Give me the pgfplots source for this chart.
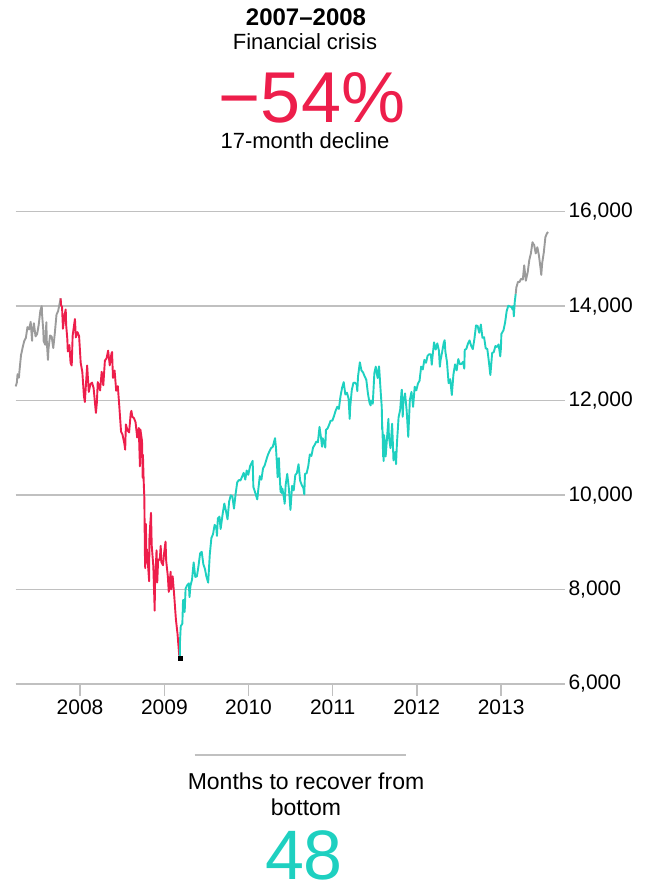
\documentclass[border=0pt]{standalone}
\usepackage{pgfplots}
\pgfplotsset{compat=1.18}
\usepackage{pgfplotstable}
\usepgfplotslibrary{dateplot}
\usepackage{fontspec}
\setmainfont{Liberation Sans}
\definecolor{crisisred}{RGB}{237,30,75}
\definecolor{recteal}{RGB}{30,208,192}
\definecolor{linegray}{RGB}{155,155,155}
\definecolor{gridgray}{RGB}{192,192,192}

\pgfplotstableread{
d v
2007-03-28 12300
2007-04-02 12382
2007-04-05 12560
2007-04-11 12484
2007-04-13 12612
2007-04-20 12961
2007-04-27 13120
2007-05-04 13264
2007-05-11 13326
2007-05-18 13556
2007-05-25 13507
2007-06-01 13668
2007-06-07 13266
2007-06-08 13424
2007-06-15 13639
2007-06-22 13360
2007-06-29 13408
2007-07-06 13611
2007-07-13 13907
2007-07-19 14000
2007-07-20 13851
2007-07-26 13473
2007-07-27 13265
2007-08-03 13182
2007-08-08 13658
2007-08-10 13240
2007-08-15 12861
2007-08-17 13079
2007-08-24 13379
2007-08-31 13358
2007-09-07 13113
2007-09-14 13442
2007-09-21 13820
2007-09-28 13896
2007-10-05 14066
2007-10-09 14165
}\grayA

\pgfplotstableread{
d v
2007-10-09 14165
2007-10-11 14015
2007-10-15 13985
2007-10-19 13522
2007-10-26 13807
2007-10-31 13930
2007-11-02 13595
2007-11-07 13300
2007-11-09 13042
2007-11-16 13176
2007-11-21 12799
2007-11-26 12743
2007-11-30 13372
2007-12-07 13625
2007-12-10 13727
2007-12-14 13339
2007-12-21 13450
2007-12-28 13366
2008-01-04 12800
2008-01-11 12606
2008-01-18 12099
2008-01-22 11971
2008-01-25 12207
2008-02-01 12743
2008-02-08 12183
2008-02-15 12348
2008-02-22 12381
2008-02-29 12266
2008-03-07 11894
2008-03-10 11740
2008-03-14 11951
2008-03-18 12392
2008-03-20 12361
2008-03-28 12216
2008-04-04 12610
2008-04-11 12325
2008-04-18 12849
2008-04-25 12892
2008-05-02 13058
2008-05-09 12746
2008-05-16 12987
2008-05-19 13028
2008-05-23 12480
2008-05-30 12638
2008-06-06 12209
2008-06-13 12307
2008-06-20 11843
2008-06-27 11346
2008-07-03 11288
2008-07-11 11100
2008-07-15 10962
2008-07-18 11496
2008-07-25 11370
2008-08-01 11326
2008-08-08 11734
2008-08-11 11782
2008-08-15 11659
2008-08-22 11628
2008-08-29 11543
2008-09-05 11220
2008-09-12 11421
2008-09-15 10917
2008-09-17 10609
2008-09-19 11388
2008-09-26 11143
2008-09-29 10365
2008-09-30 10851
2008-10-03 10325
2008-10-06 9955
2008-10-09 8579
2008-10-10 8451
2008-10-13 9387
2008-10-15 8577
2008-10-17 8852
2008-10-22 8519
2008-10-24 8378
2008-10-27 8176
2008-10-28 9065
2008-10-31 9325
2008-11-04 9625
2008-11-07 8943
2008-11-14 8497
2008-11-20 7552
2008-11-21 8046
2008-11-28 8829
2008-12-01 8149
2008-12-05 8635
2008-12-12 8629
2008-12-16 8924
2008-12-19 8579
2008-12-26 8515
2008-12-31 8776
2009-01-06 9015
2009-01-09 8599
2009-01-16 8281
2009-01-20 7950
2009-01-23 8077
2009-01-28 8375
2009-01-30 8001
2009-02-06 8280
2009-02-13 7850
2009-02-20 7366
2009-02-27 7063
2009-03-06 6627
2009-03-09 6547
}\redS

\pgfplotstableread{
d v
2009-03-09 6547
2009-03-10 6926
2009-03-13 7224
2009-03-20 7279
2009-03-23 7776
2009-03-27 7776
2009-03-30 7523
2009-04-03 8018
2009-04-09 8083
2009-04-17 8131
2009-04-20 7841
2009-04-24 8076
2009-05-01 8212
2009-05-08 8575
2009-05-15 8268
2009-05-22 8277
2009-05-29 8500
2009-06-05 8764
2009-06-12 8799
2009-06-19 8539
2009-06-26 8438
2009-07-02 8280
2009-07-10 8146
2009-07-17 8743
2009-07-24 9093
2009-07-31 9171
2009-08-07 9370
2009-08-14 9321
2009-08-17 9135
2009-08-21 9505
2009-08-28 9544
2009-09-02 9281
2009-09-11 9605
2009-09-18 9820
2009-09-25 9665
2009-10-02 9487
2009-10-09 9864
2009-10-16 9995
2009-10-23 9972
2009-10-30 9712
2009-11-06 10023
2009-11-13 10270
2009-11-20 10318
2009-11-27 10309
2009-12-04 10388
2009-12-11 10471
2009-12-18 10328
2009-12-24 10520
2009-12-31 10428
2010-01-08 10618
2010-01-19 10725
2010-01-22 10172
2010-01-29 10067
2010-02-08 9908
2010-02-12 10099
2010-02-19 10402
2010-02-26 10325
2010-03-05 10567
2010-03-12 10625
2010-03-19 10742
2010-03-26 10851
2010-04-02 10927
2010-04-09 10997
2010-04-16 11019
2010-04-26 11205
2010-04-30 11009
2010-05-06 10520
2010-05-07 10380
2010-05-13 10782
2010-05-14 10620
2010-05-20 10068
2010-05-21 10193
2010-05-25 10043
2010-05-28 10137
2010-06-04 9931
2010-06-07 9816
2010-06-11 10211
2010-06-18 10450
2010-06-25 10143
2010-07-02 9686
2010-07-09 10198
2010-07-16 10097
2010-07-23 10425
2010-07-30 10466
2010-08-06 10653
2010-08-13 10303
2010-08-20 10213
2010-08-27 10150
2010-08-31 10014
2010-09-03 10448
2010-09-10 10462
2010-09-17 10607
2010-09-24 10860
2010-10-01 10829
2010-10-08 11006
2010-10-15 11062
2010-10-22 11133
2010-10-29 11118
2010-11-05 11444
2010-11-12 11192
2010-11-16 11023
2010-11-19 11204
2010-11-26 11092
2010-11-30 11006
2010-12-03 11382
2010-12-10 11410
2010-12-17 11492
2010-12-23 11573
2010-12-31 11578
2011-01-07 11675
2011-01-14 11787
2011-01-21 11871
2011-01-28 11824
2011-02-04 12092
2011-02-11 12273
2011-02-18 12391
2011-02-25 12130
2011-03-04 12169
2011-03-11 12044
2011-03-16 11613
2011-03-18 11858
2011-03-25 12221
2011-04-01 12377
2011-04-08 12380
2011-04-15 12342
2011-04-18 12201
2011-04-21 12505
2011-04-29 12811
2011-05-06 12638
2011-05-13 12596
2011-05-20 12512
2011-05-27 12441
2011-06-03 12151
2011-06-10 11952
2011-06-15 11898
2011-06-17 12004
2011-06-24 11934
2011-07-01 12582
2011-07-07 12719
2011-07-15 12479
2011-07-21 12724
2011-07-22 12681
2011-07-29 12143
2011-08-02 11866
2011-08-04 11383
2011-08-05 11445
2011-08-08 10810
2011-08-09 11240
2011-08-10 10720
2011-08-11 11143
2011-08-12 11269
2011-08-18 10990
2011-08-19 10817
2011-08-26 11285
2011-08-31 11614
2011-09-02 11240
2011-09-09 10992
2011-09-16 11509
2011-09-22 10733
2011-09-23 10771
2011-09-30 10913
2011-10-03 10655
2011-10-07 11103
2011-10-14 11644
2011-10-21 11809
2011-10-27 12209
2011-10-28 12231
2011-11-01 11658
2011-11-04 11983
2011-11-11 12153
2011-11-18 11796
2011-11-25 11231
2011-12-02 12019
2011-12-09 12184
2011-12-16 11867
2011-12-23 12294
2011-12-30 12218
2012-01-06 12360
2012-01-13 12422
2012-01-20 12720
2012-01-27 12660
2012-02-03 12862
2012-02-10 12801
2012-02-17 12950
2012-02-24 12983
2012-03-02 12978
2012-03-06 12759
2012-03-09 12922
2012-03-16 13233
2012-03-23 13081
2012-03-30 13212
2012-04-06 13060
2012-04-10 12716
2012-04-13 12850
2012-04-20 13029
2012-04-27 13228
2012-05-01 13279
2012-05-04 13038
2012-05-11 12821
2012-05-18 12369
2012-05-25 12454
2012-06-01 12119
2012-06-08 12554
2012-06-15 12767
2012-06-22 12640
2012-06-29 12880
2012-07-06 12772
2012-07-13 12777
2012-07-20 12822
2012-07-25 12676
2012-07-27 13075
2012-08-03 13096
2012-08-10 13207
2012-08-17 13275
2012-08-24 13157
2012-08-31 13090
2012-09-07 13306
2012-09-14 13593
2012-09-21 13579
2012-09-28 13437
2012-10-05 13610
2012-10-12 13329
2012-10-19 13343
2012-10-26 13107
2012-11-02 13093
2012-11-09 12815
2012-11-15 12542
2012-11-16 12588
2012-11-23 13010
2012-11-30 13026
2012-12-07 13155
2012-12-14 13135
2012-12-21 13190
2012-12-28 12938
2012-12-31 13104
2013-01-02 13412
2013-01-11 13488
2013-01-18 13650
2013-01-25 13896
2013-02-01 14010
2013-02-08 13993
2013-02-15 13982
2013-02-20 13928
2013-02-22 14001
2013-02-25 13784
2013-03-01 14090
2013-03-05 14254
}\tealS

\pgfplotstableread{
d v
2013-03-05 14254
2013-03-08 14397
2013-03-15 14515
2013-03-22 14512
2013-03-28 14579
2013-04-05 14565
2013-04-11 14865
2013-04-18 14537
2013-04-26 14712
2013-05-03 14974
2013-05-10 15118
2013-05-17 15354
2013-05-22 15307
2013-05-24 15303
2013-05-31 15116
2013-06-07 15248
2013-06-14 15070
2013-06-21 14799
2013-06-24 14660
2013-06-28 14910
2013-07-05 15136
2013-07-12 15464
2013-07-19 15544
2013-07-24 15567
}\grayB

\begin{document}
\begin{tikzpicture}[x=1pt,y=1pt]
\path[use as bounding box] (0,0) rectangle (653,894);
\begin{axis}[
  at={(15.7pt,210pt)}, anchor=south west,
  scale only axis, width=549.3pt, height=472.3pt,
  date coordinates in=x, date ZERO=2007-01-01,
  xmin=2007-03-28, xmax=2013-10-05,
  ymin=6000, ymax=16000,
  separate axis lines,
  axis x line=bottom, axis y line=right,
  x axis line style={draw=gridgray, line width=1.5pt, -},
  y axis line style={draw=none},
  xtick={2008-01-01,2009-01-01,2010-01-01,2011-01-01,2012-01-01,2013-01-01},
  xticklabel={\year},
  xtick align=outside,
  xtick style={draw=gridgray, line width=1.5pt},
  major tick length=12pt,
  ytick={6000,8000,10000,12000,14000,16000},
  scaled y ticks=false,
  yticklabel={\pgfmathprintnumber[fixed,precision=0,1000 sep={,},assume math mode=true]{\tick}},
  ytick style={draw=none},
  ymajorgrids,
  major grid style={draw=gridgray, line width=1.4pt},
  ticklabel style={font=\fontsize{21}{24}\selectfont, text=black},
  yticklabel style={anchor=west, xshift=-6pt},
  clip=false,
]
\addplot[linegray, line width=1.9pt, line join=round] table[x=d,y=v] {\grayA};
\addplot[crisisred, line width=1.9pt, line join=round] table[x=d,y=v] {\redS};
\addplot[recteal, line width=1.9pt, line join=round] table[x=d,y=v] {\tealS};
\addplot[linegray, line width=1.9pt, line join=round] table[x=d,y=v] {\grayB};
\addplot[only marks, mark=square*, mark size=2pt, black] coordinates {(2009-03-09,6547)};
\end{axis}
\node[anchor=base, inner sep=0pt, font=\fontsize{24}{28}\selectfont\bfseries] at (306,868) {2007–2008};
\node[anchor=base, inner sep=0pt, font=\fontsize{22}{26}\selectfont] at (305,844.7) {Financial crisis};
\node[anchor=base, inner sep=0pt, font=\fontsize{72}{76}\selectfont, text=crisisred] at (312,771) {−54\%};
\node[anchor=base, inner sep=0pt, font=\fontsize{22}{26}\selectfont] at (305,745) {17-month decline};
\draw[gridgray, line width=2pt] (194.6,139) -- (406,139);
\node[anchor=base, inner sep=0pt, font=\fontsize{23}{27}\selectfont] at (306,104) {Months to recover from};
\node[anchor=base, inner sep=0pt, font=\fontsize{23}{27}\selectfont] at (306,78) {bottom};
\node[anchor=base, inner sep=0pt, font=\fontsize{70}{74}\selectfont, text=recteal] at (304,14) {48};
\end{tikzpicture}
\end{document}
